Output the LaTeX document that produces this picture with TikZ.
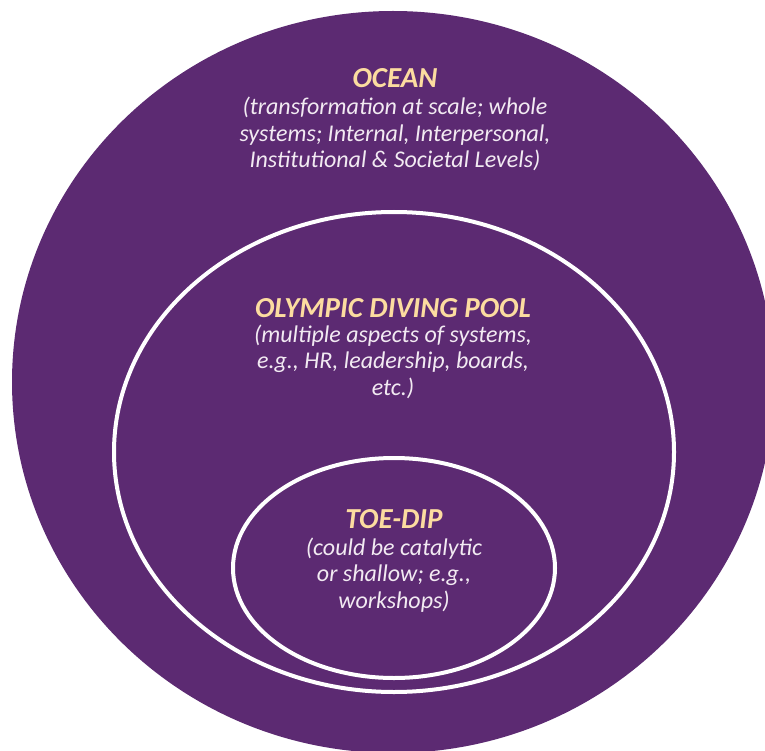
\documentclass[tikz,border=0pt]{standalone}
\usepackage{fontspec}
\setmainfont{Carlito}
\definecolor{pur}{HTML}{5C2A72}
\definecolor{cream}{HTML}{FCDCA0}
\definecolor{soft}{HTML}{F2EAF2}
\begin{document}
\begin{tikzpicture}[x=1pt,y=-1pt,
  ring/.style={draw=white,line width=4pt},
  ttl/.style={text=cream,font=\fontsize{29}{31}\selectfont\bfseries\itshape,inner sep=0pt,anchor=base},
  body/.style={text=soft,font=\fontsize{24}{26.5}\selectfont\itshape,align=center,inner sep=0pt,anchor=base}]
\useasboundingbox (0,0) rectangle (765,751);
\begin{scope}
\clip (0,0) rectangle (765,751);
\fill[pur] (393,382) ellipse [x radius=381, y radius=371];
\end{scope}
\draw[ring] (394,452) ellipse [x radius=280, y radius=240];
\draw[ring] (394,568) ellipse [x radius=161, y radius=110];
\node[ttl] (ocean) at (395,88) {OCEAN};
\node[body] (oceant) at (395,168) {(transformation at scale; whole\\systems; Internal, Interpersonal,\\Institutional \& Societal Levels)};
\node[ttl] (pool) at (393,317) {OLYMPIC DIVING POOL};
\node[body] (poolt) at (393,395) {(multiple aspects of systems,\\e.g., HR, leadership, boards,\\etc.)};
\node[ttl] (toe) at (394,528) {TOE-DIP};
\node[body] (toet) at (394,608) {(could be catalytic\\or shallow; e.g.,\\workshops)};
\end{tikzpicture}
\end{document}
